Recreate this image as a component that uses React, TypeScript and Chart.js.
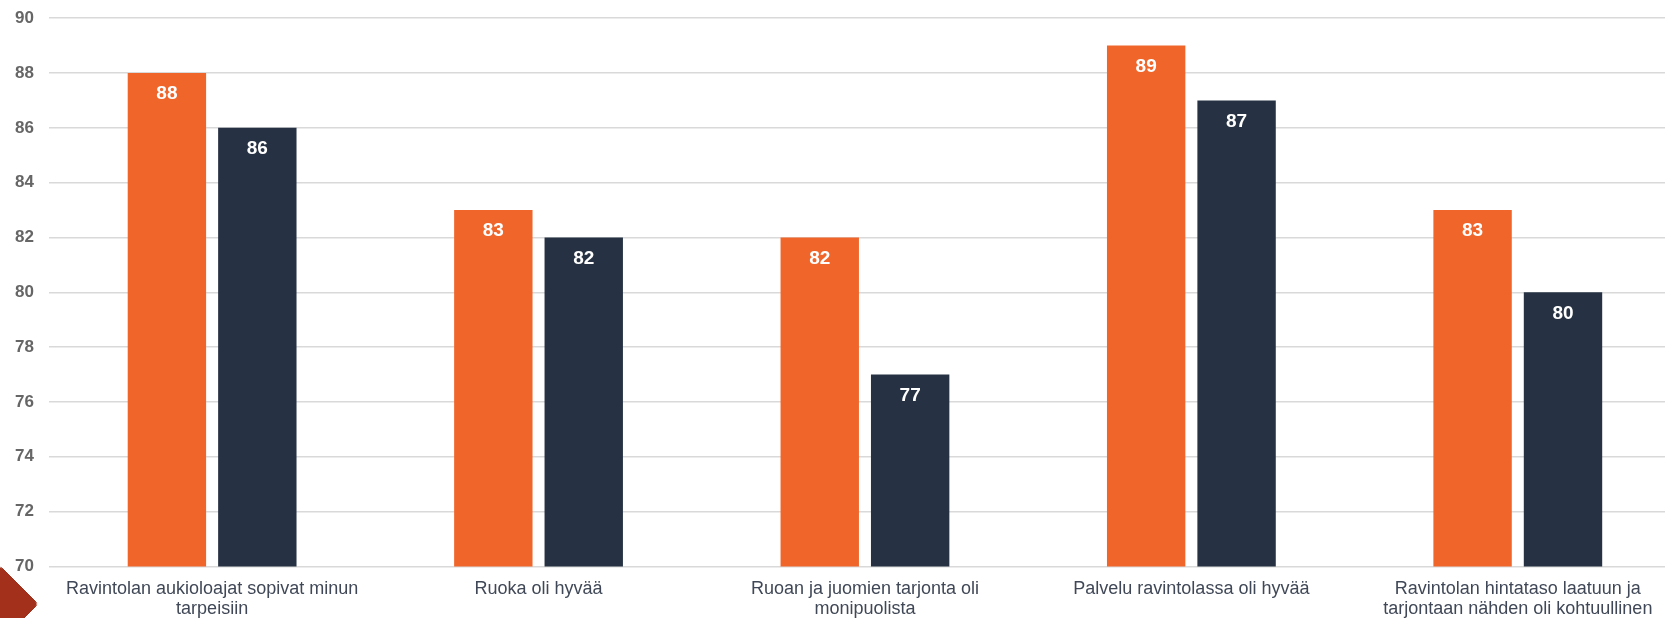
import React, { useEffect, useRef } from "react";
import { Chart, registerables } from "chart.js";

Chart.register(...registerables);

const categories: (string | string[])[] = [
  ["Ravintolan aukioloajat sopivat minun", "tarpeisiin"],
  "Ruoka oli hyvää",
  ["Ruoan ja juomien tarjonta oli", "monipuolista"],
  "Palvelu ravintolassa oli hyvää",
  ["Ravintolan hintataso laatuun ja", "tarjontaan nähden oli kohtuullinen"],
];
const seriesA = [88, 83, 82, 89, 83];
const seriesB = [86, 82, 77, 87, 80];
const yMin = 70;
const yMax = 90;
const yStep = 2;

const FONT = "'Liberation Sans', Arial, sans-serif";

const valueLabels = {
  id: "valueLabels",
  afterDatasetsDraw(chart: any) {
    const ctx = chart.ctx;
    ctx.save();
    ctx.font = `bold 19px ${FONT}`;
    ctx.fillStyle = "#ffffff";
    ctx.textAlign = "center";
    ctx.textBaseline = "middle";
    chart.data.datasets.forEach((ds: any, i: number) => {
      const meta = chart.getDatasetMeta(i);
      meta.data.forEach((bar: any, j: number) => {
        ctx.fillText(String(ds.data[j]), bar.x, bar.y + 21);
      });
    });
    ctx.restore();
  },
};

export default function App() {
  const ref = useRef<HTMLCanvasElement | null>(null);
  useEffect(() => {
    if (!ref.current) return;
    const chart = new Chart(ref.current, {
      type: "bar",
      data: {
        labels: categories,
        datasets: [
          {
            label: "A",
            data: seriesA,
            backgroundColor: "#F0652A",
            categoryPercentage: 0.554,
            barPercentage: 0.867,
          },
          {
            label: "B",
            data: seriesB,
            backgroundColor: "#263243",
            categoryPercentage: 0.554,
            barPercentage: 0.867,
          },
        ],
      },
      options: {
        responsive: false,
        animation: false,
        layout: { padding: { left: 0, top: 10, right: 9, bottom: 0 } },
        plugins: {
          legend: { display: false },
          tooltip: { enabled: false },
        },
        scales: {
          x: {
            grid: { display: false },
            border: { display: false },
            ticks: {
              color: "#404857",
              font: { family: FONT, size: 18, lineHeight: 1.1 },
              padding: 5,
              maxRotation: 0,
              autoSkip: false,
            },
          },
          y: {
            min: yMin,
            max: yMax,
            border: { display: false },
            grid: { color: "#D9D9D9", lineWidth: 1.5, drawTicks: false },
            ticks: {
              stepSize: yStep,
              color: "#666666",
              font: { family: FONT, size: 17, weight: "bold" },
              padding: 15,
            },
          },
        },
      },
      plugins: [valueLabels],
    });
    return () => chart.destroy();
  }, []);

  return (
    <div
      style={{
        position: "fixed",
        left: 0,
        top: 0,
        width: 1665,
        height: 618,
        overflow: "hidden",
        background: "#ffffff",
      }}
    >
      <canvas
        ref={ref}
        width={1690}
        height={631}
        style={{ display: "block", position: "absolute", left: 0, top: -7 }}
      />
      <div
        style={{
          position: "absolute",
          left: -27,
          top: 577,
          width: 54,
          height: 54,
          background: "#A3301A",
          borderRadius: 4,
          transform: "rotate(45deg)",
        }}
      />
    </div>
  );
}
